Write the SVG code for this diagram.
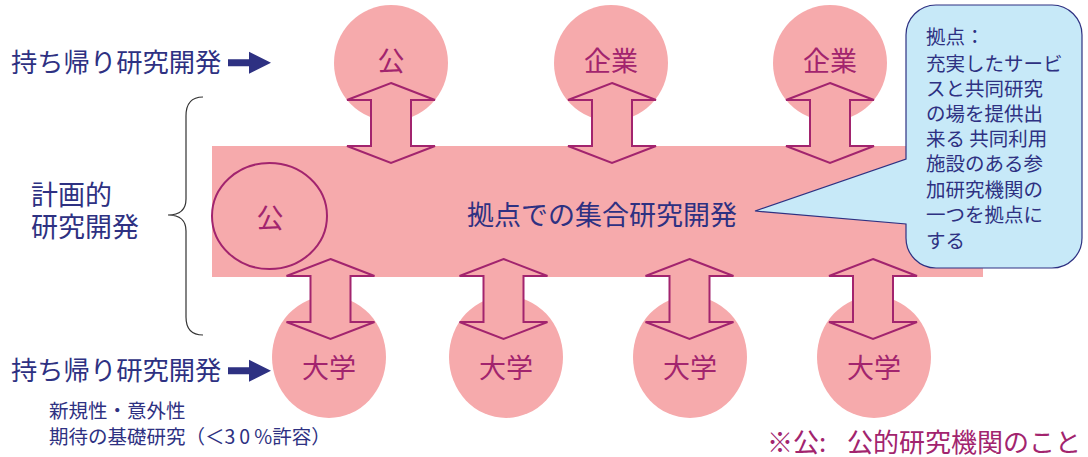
<svg xmlns="http://www.w3.org/2000/svg" xmlns:xlink="http://www.w3.org/1999/xlink" width="1088" height="457" viewBox="0 0 1088 457">
<style>
  text { font-family: "Noto Sans CJK JP", "Noto Sans", sans-serif; }
  .navy { fill: #2e3182; }
  .pur { fill: #a2246e; }
  .pinkfill { fill: #f6aaac; }
  .outline { fill: none; stroke: #a2246e; stroke-width: 2; }
  .dbl { fill: #f6aaac; stroke: #a2246e; stroke-width: 2; stroke-linejoin: miter; }
  .lbl { font-size: 27px; text-anchor: middle; }
  .call { font-size: 19.5px; }
  .brace { fill: none; stroke: #333333; stroke-width: 1.2; }
</style>
<defs>
  <path id="dblArrow" d="M0,0 L44,17 L20,17 L20,63 L44,63 L0,80 L-44,63 L-20,63 L-20,17 L-44,17 Z"/>
  <path id="smallArrow" d="M0,-3.5 L21,-3.5 L21,-11 L43,0 L21,11 L21,3.5 L0,3.5 Z"/>
</defs>

<g id="main-rect">
  <rect class="pinkfill" x="212" y="146" width="771" height="131"/>
  <text class="navy" x="602" y="225" font-size="27" text-anchor="middle">拠点での集合研究開発</text>
</g>

<g id="node-inner-ko">
  <ellipse class="outline" cx="269.5" cy="216" rx="57.5" ry="53"/>
  <text class="pur lbl" x="270" y="228">公</text>
</g>

<g id="node-top-ko">
  <ellipse class="pinkfill" cx="391" cy="63" rx="57" ry="58"/>
  <text class="pur lbl" x="391" y="71">公</text>
</g>
<g id="node-top-kigyo1">
  <ellipse class="pinkfill" cx="611" cy="63" rx="57" ry="58"/>
  <text class="pur lbl" x="611" y="71">企業</text>
</g>
<g id="node-top-kigyo2">
  <ellipse class="pinkfill" cx="830" cy="63" rx="57" ry="58"/>
  <text class="pur lbl" x="830" y="71">企業</text>
</g>

<g id="node-univ1">
  <ellipse class="pinkfill" cx="329" cy="357" rx="57" ry="61"/>
  <text class="pur lbl" x="329" y="378">大学</text>
</g>
<g id="node-univ2">
  <ellipse class="pinkfill" cx="506" cy="357" rx="57" ry="61"/>
  <text class="pur lbl" x="506" y="378">大学</text>
</g>
<g id="node-univ3">
  <ellipse class="pinkfill" cx="690" cy="357" rx="57" ry="61"/>
  <text class="pur lbl" x="690" y="378">大学</text>
</g>
<g id="node-univ4">
  <ellipse class="pinkfill" cx="874" cy="357" rx="57" ry="61"/>
  <text class="pur lbl" x="874" y="378">大学</text>
</g>

<g id="connectors">
  <use xlink:href="#dblArrow" class="dbl" transform="translate(391,83)"/>
  <use xlink:href="#dblArrow" class="dbl" transform="translate(612,83)"/>
  <use xlink:href="#dblArrow" class="dbl" transform="translate(830,83)"/>
  <use xlink:href="#dblArrow" class="dbl" transform="translate(330.5,259)"/>
  <use xlink:href="#dblArrow" class="dbl" transform="translate(503.5,259)"/>
  <use xlink:href="#dblArrow" class="dbl" transform="translate(689.5,259)"/>
  <use xlink:href="#dblArrow" class="dbl" transform="translate(873,259)"/>
  <use xlink:href="#smallArrow" class="navy" transform="translate(228,62.7)"/>
  <use xlink:href="#smallArrow" class="navy" transform="translate(228,370.7)"/>
</g>

<g id="node-callout">
  <path d="M936,5 H1052 A30,30 0 0 1 1082,35 V238 A30,30 0 0 1 1052,268 H936 A30,30 0 0 1 906,238 V224 L755,211 L906,159 V35 A30,30 0 0 1 936,5 Z" fill="#c7e9f8" stroke="#2e3182" stroke-width="1.2"/>
  <text class="navy call" x="926">
    <tspan x="926" y="44">拠点：</tspan>
    <tspan x="926" y="70.5">充実したサービ</tspan>
    <tspan x="926" y="96">スと共同研究</tspan>
    <tspan x="926" y="121">の場を提供出</tspan>
    <tspan x="926" y="146">来る 共同利用</tspan>
    <tspan x="926" y="171">施設のある参</tspan>
    <tspan x="926" y="197">加研究機関の</tspan>
    <tspan x="926" y="222">一つを拠点に</tspan>
    <tspan x="926" y="247.5">する</tspan>
  </text>
</g>

<g id="node-keikaku">
  <path class="brace" d="M203,97 Q186,97 186,116 L186,199 Q186,215 168,215 Q186,215 186,231 L186,317 Q186,335 203,335"/>
  <text class="navy" font-size="27" x="31" y="205">計画的</text>
  <text class="navy" font-size="27" x="31" y="237">研究開発</text>
</g>

<g id="label-top-mochikaeri">
  <text class="navy" font-size="26.3" x="11" y="72">持ち帰り研究開発</text>
</g>

<g id="label-bottom-mochikaeri">
  <text class="navy" font-size="26.3" x="11" y="380">持ち帰り研究開発</text>
  <text class="navy" font-size="19.5" x="49" y="418">新規性・意外性</text>
  <text class="navy" font-size="19.5" x="49" y="444">期待の基礎研究（＜<tspan letter-spacing="4">30</tspan>%許容）</text>
</g>

<g id="footnote">
  <text class="pur" font-size="26" x="767" y="452">※公:<tspan x="847">公的研究機関のこと</tspan></text>
</g>
</svg>
